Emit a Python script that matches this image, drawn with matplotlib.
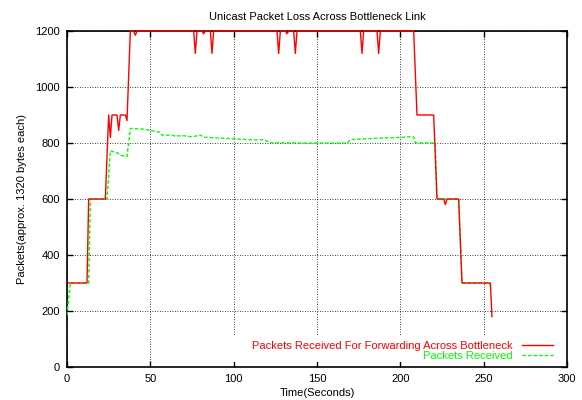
import matplotlib
matplotlib.use("Agg")
import matplotlib.pyplot as plt
from matplotlib.patches import Rectangle

plt.rcParams['font.family'] = ['Liberation Sans', 'DejaVu Sans']
plt.rcParams['font.size'] = 8

# packets received for forwarding across bottleneck (red)
fwd_t = [1, 12, 13, 23, 25, 26, 27, 30, 31, 32, 35, 36, 38, 40, 41, 42,
         76, 77, 78, 81, 82, 83, 86, 87, 88,
         126, 127, 128, 131, 132, 133, 136, 137, 138,
         176, 177, 178, 186, 187, 188,
         208, 210, 220, 222, 226, 227, 228, 235, 237, 254, 255]
fwd_v = [300, 300, 600, 600, 900, 820, 900, 900, 845, 900, 900, 880, 1200, 1200, 1185, 1200,
         1200, 1120, 1200, 1200, 1190, 1200, 1200, 1120, 1200,
         1200, 1120, 1200, 1200, 1190, 1200, 1200, 1120, 1200,
         1200, 1120, 1200, 1200, 1120, 1200,
         1200, 900, 900, 600, 600, 580, 600, 600, 300, 300, 180]

# packets received (green)
rcv_t = [0, 2, 13, 14, 24, 26, 30, 33, 36, 38, 45, 50, 56, 57, 62, 65, 70, 75,
         80, 82, 90, 100, 105, 114, 118, 122, 144, 145, 146, 168, 170, 180, 190,
         200, 205, 208, 209, 221, 222, 235, 237, 253, 254.5]
rcv_v = [185, 300, 300, 600, 600, 772, 765, 755, 752, 852, 850, 845, 838, 828, 828, 825, 826, 822,
         828, 821, 818, 815, 813, 811, 812, 801, 800, 797, 800, 800, 812, 815, 818,
         820, 822, 822, 801, 800, 600, 600, 300, 300, 290]

x_ticks = [0, 50, 100, 150, 200, 250, 300]
y_ticks = [0, 200, 400, 600, 800, 1000, 1200]

fig = plt.figure(figsize=(5.82, 4.0), dpi=100)
ax = fig.add_axes([67/582, 33/400, 500/582, 336/400])

ax.plot(fwd_t, fwd_v, color='#ff0000', lw=1.0, clip_on=False, zorder=5,
        label='Packets Received For Forwarding Across Bottleneck')
ax.plot(rcv_t, rcv_v, color='#00ff00', lw=1.0, ls=(0, (2.5, 1.5)), zorder=4,
        label='Packets Received')

ax.set_xlim(0, 300)
ax.set_ylim(0, 1200)
ax.set_xticks(x_ticks)
ax.set_yticks(y_ticks)
ax.grid(True, color='black', ls=(0, (1, 2)), lw=0.6)
ax.tick_params(direction='in', length=4, width=1, top=True, right=True, pad=5)
for s in ax.spines.values():
    s.set_linewidth(1.2)

ax.set_title('Unicast Packet Loss Across Bottleneck Link', fontsize=8, pad=8)
ax.set_xlabel('Time(Seconds)', labelpad=3)
ax.set_ylabel('Packets(approx. 1320 bytes each)', labelpad=6)

# key area blanks the grid like gnuplot does
ax.add_patch(Rectangle((0.316, 0.015), 0.67, 0.077, transform=ax.transAxes,
                       facecolor='white', edgecolor='none', zorder=2))

leg = ax.legend(loc='lower right', bbox_to_anchor=(0.974, 0.016), markerfirst=False,
                labelcolor='linecolor', frameon=False,
                handlelength=2.8, handletextpad=0.8, labelspacing=0.0,
                borderpad=0.1, borderaxespad=0.0, fontsize=8)
for t in leg.get_texts():
    t.set_ha('right')
leg.set_zorder(3)

fig.savefig('out.png', dpi=100)
